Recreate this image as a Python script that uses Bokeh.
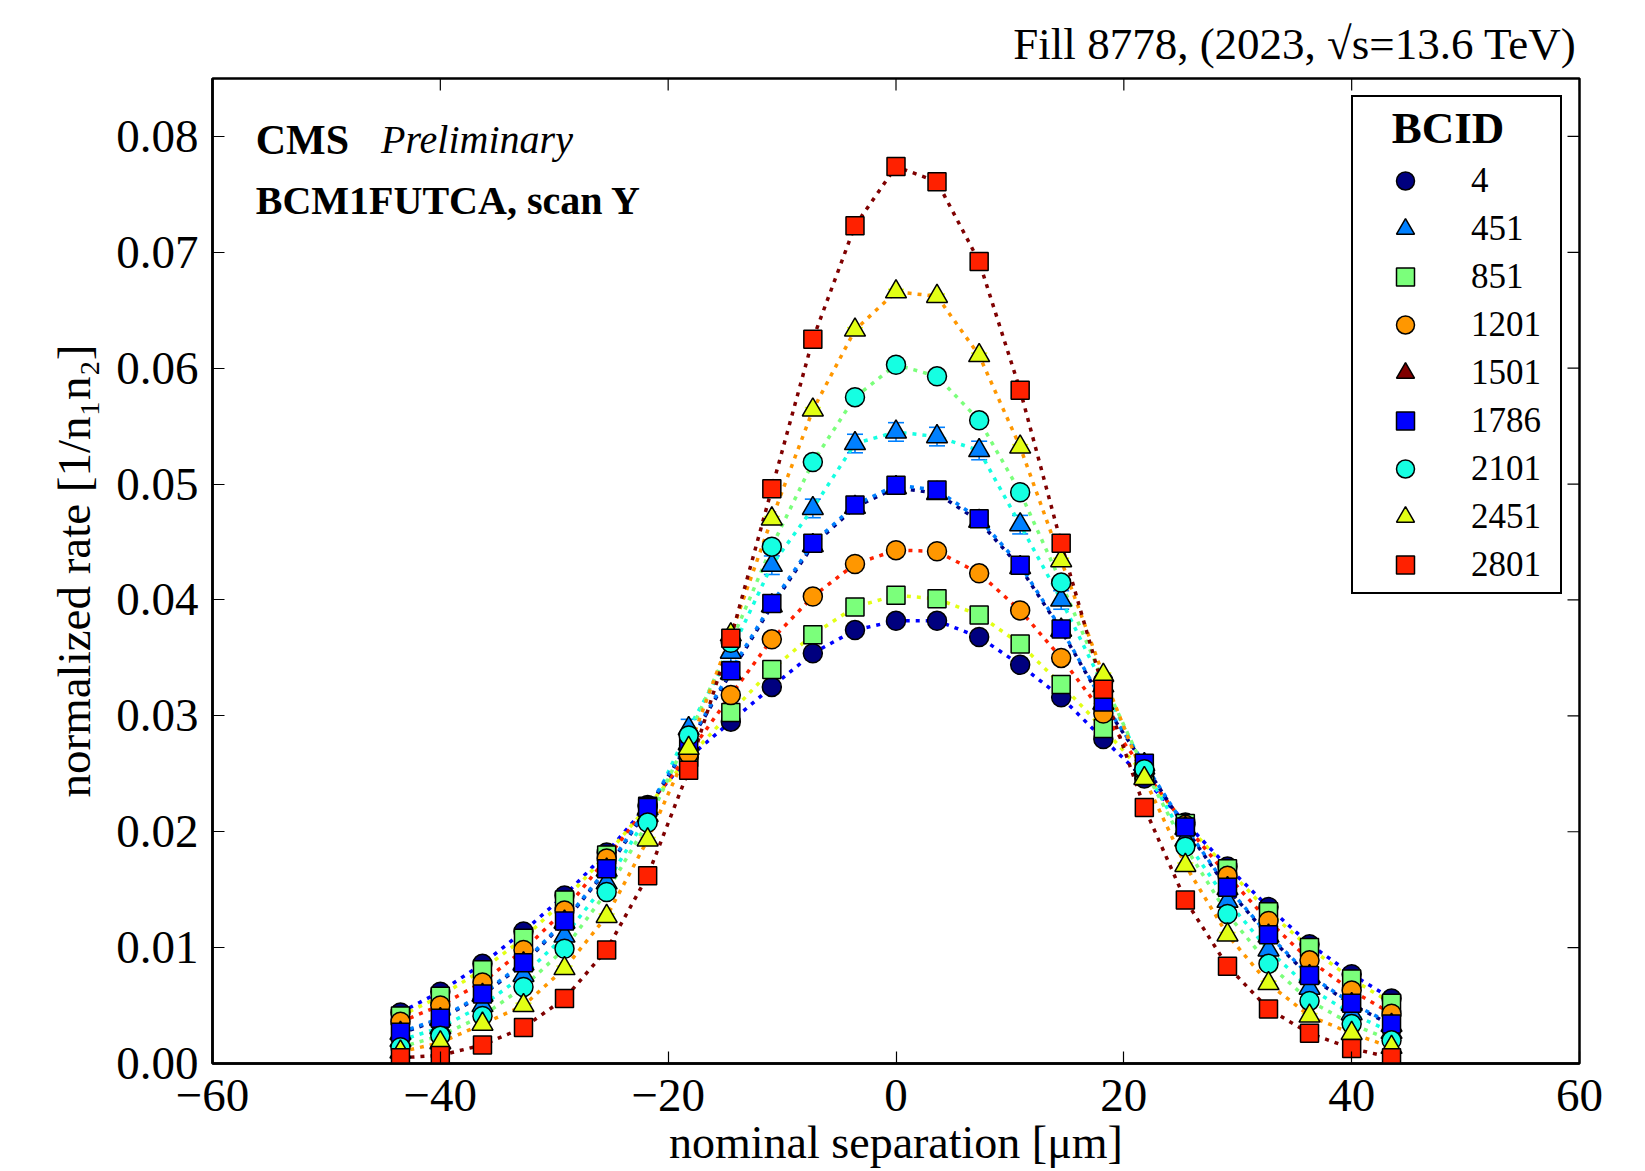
from bokeh.plotting import figure
from bokeh.models import (ColumnDataSource, Whisker, TeeHead, Legend, LegendItem, Label,
                          FixedTicker, Range1d, PrintfTickFormatter)
from bokeh.embed import file_html
from bokeh.resources import INLINE

# ---------------- data ----------------
sep = [-43.5, -40.0, -36.3, -32.7, -29.1, -25.4, -21.8, -18.2, -14.5, -10.9, -7.3, -3.6,
       0.0, 3.6, 7.3, 10.9, 14.5, 18.2, 21.8, 25.4, 29.1, 32.7, 36.3, 40.0, 43.5]

bcid = ["4", "451", "851", "1201", "1501", "1786", "2101", "2451", "2801"]

rate_4 = [0.0044, 0.0062, 0.0086, 0.0114, 0.0145, 0.0182, 0.0223, 0.0264, 0.0295, 0.0325, 0.0354, 0.0374,
          0.0382, 0.0382, 0.0368, 0.0344, 0.0316, 0.0280, 0.0246, 0.0208, 0.0170, 0.0135, 0.0103, 0.0077, 0.0056]
rate_451 = [0.0020, 0.0031, 0.0050, 0.0076, 0.0110, 0.0156, 0.0214, 0.0289, 0.0355, 0.0430, 0.0479, 0.0535,
            0.0545, 0.0541, 0.0529, 0.0465, 0.0400, 0.0326, 0.0255, 0.0193, 0.0140, 0.0098, 0.0065, 0.0043, 0.0027]
rate_851 = [0.0041, 0.0058, 0.0081, 0.0108, 0.0141, 0.0180, 0.0222, 0.0264, 0.0303, 0.0340, 0.0370, 0.0394,
            0.0404, 0.0401, 0.0387, 0.0362, 0.0327, 0.0289, 0.0250, 0.0207, 0.0168, 0.0131, 0.0100, 0.0073, 0.0052]
rate_1201 = [0.0036, 0.0050, 0.0070, 0.0098, 0.0132, 0.0177, 0.0222, 0.0267, 0.0318, 0.0366, 0.0403, 0.0431,
             0.0443, 0.0442, 0.0423, 0.0391, 0.0350, 0.0302, 0.0252, 0.0206, 0.0162, 0.0123, 0.0089, 0.0063, 0.0043]
rate_1501 = [0.0026, 0.0038, 0.0059, 0.0086, 0.0122, 0.0167, 0.0220, 0.0276, 0.0337, 0.0395, 0.0447, 0.0480,
             0.0497, 0.0492, 0.0468, 0.0428, 0.0374, 0.0311, 0.0258, 0.0203, 0.0151, 0.0110, 0.0075, 0.0051, 0.0033]
rate_1786 = [0.0027, 0.0039, 0.0060, 0.0087, 0.0123, 0.0168, 0.0221, 0.0277, 0.0339, 0.0397, 0.0449, 0.0482,
             0.0499, 0.0495, 0.0470, 0.0430, 0.0375, 0.0312, 0.0259, 0.0204, 0.0152, 0.0111, 0.0076, 0.0052, 0.0034]
rate_2101 = [0.0014, 0.0024, 0.0041, 0.0066, 0.0099, 0.0148, 0.0208, 0.0283, 0.0363, 0.0446, 0.0519, 0.0575,
             0.0603, 0.0593, 0.0555, 0.0493, 0.0415, 0.0330, 0.0254, 0.0187, 0.0129, 0.0086, 0.0054, 0.0034, 0.0020]
rate_2451 = [0.0010, 0.0018, 0.0034, 0.0050, 0.0082, 0.0127, 0.0193, 0.0272, 0.0370, 0.0470, 0.0564, 0.0633,
             0.0666, 0.0662, 0.0611, 0.0532, 0.0434, 0.0335, 0.0246, 0.0171, 0.0111, 0.0069, 0.0041, 0.0026, 0.0014]
rate_2801 = [0.0005, 0.0007, 0.0016, 0.0031, 0.0056, 0.0098, 0.0162, 0.0253, 0.0367, 0.0496, 0.0625, 0.0723,
             0.0774, 0.0761, 0.0692, 0.0581, 0.0449, 0.0323, 0.0221, 0.0141, 0.0084, 0.0047, 0.0026, 0.0013, 0.0005]

rates = [rate_4, rate_451, rate_851, rate_1201, rate_1501, rate_1786, rate_2101, rate_2451, rate_2801]
rate_err = [0.0002, 0.0008, 0.0002, 0.0002, 0.0003, 0.0003, 0.0002, 0.0002, 0.0002]

x_ticks = [-60, -40, -20, 0, 20, 40, 60]
x_tick_labels = ["\u221260", "\u221240", "\u221220", "0", "20", "40", "60"]
y_ticks = [0.0, 0.01, 0.02, 0.03, 0.04, 0.05, 0.06, 0.07, 0.08]

# ---------------- styles ----------------
marker_colors = ["#00007f", "#0080ff", "#7bff7b", "#ff9700", "#7f0000", "#0000ff", "#15ffe2", "#e2ff15", "#ff2100"]
fit_colors = ["#0000ff", "#15ffe2", "#e2ff15", "#ff2100", "#00007f", "#0080ff", "#7bff7b", "#ff9700", "#7f0000"]
marker_types = ["circle", "triangle", "square"] * 3
marker_sizes = {"circle": 19, "triangle": 21, "square": 18}
FONT = "Liberation Serif"
X0, X1, Y0, Y1 = -60, 60, 0.0, 0.085
FRAME_W, FRAME_H = 1367, 985
TICK_PX = 12

p = figure(width=1645, height=1171, x_range=Range1d(X0, X1), y_range=Range1d(Y0, Y1),
           output_backend="svg", toolbar_location=None,
           min_border_left=212, min_border_right=66, min_border_top=78, min_border_bottom=108)
p.background_fill_color = "white"
p.border_fill_color = "white"
p.outline_line_color = "black"
p.outline_line_width = 2.5
p.outline_line_alpha = 1.0
p.xgrid.visible = False
p.ygrid.visible = False

p.title.text = "Fill 8778, (2023, \u221as=13.6 TeV)"
p.title.align = "right"
p.title.text_font = FONT
p.title.text_font_size = "45px"
p.title.text_font_style = "normal"
p.title.text_color = "black"
p.title.standoff = 20
p.title.offset = 3


def style_axis(ax):
    ax.axis_line_color = "black"
    ax.axis_line_width = 2.5
    ax.major_tick_in = TICK_PX
    ax.major_tick_out = 0
    ax.major_tick_line_color = "black"
    ax.major_tick_line_width = 1.2
    ax.minor_tick_line_color = None
    ax.major_label_text_font = FONT
    ax.major_label_text_color = "black"
    ax.axis_label_text_font = FONT
    ax.axis_label_text_font_style = "normal"
    ax.axis_label_text_color = "black"


xa = p.xaxis[0]
ya = p.yaxis[0]
style_axis(xa)
style_axis(ya)
xa.ticker = FixedTicker(ticks=x_ticks)
xa.major_label_overrides = {t: s for t, s in zip(x_ticks, x_tick_labels)}
xa.major_label_text_font_size = "47px"
xa.major_label_standoff = 16
xa.axis_label = "nominal separation [\u03bcm]"
xa.axis_label_text_font_size = "46px"
xa.axis_label_standoff = 3

ya.ticker = FixedTicker(ticks=y_ticks)
ya.formatter = PrintfTickFormatter(format="%.2f")
ya.major_label_text_font_size = "47px"
ya.major_label_standoff = 14
ya.axis_label = "normalized rate [1/n\u2081n\u2082]"
ya.axis_label_text_font_size = "47px"
ya.axis_label_standoff = 13

# inward ticks on the top and right edges (from the same tick lists)
tick_dx = TICK_PX * (X1 - X0) / FRAME_W
tick_dy = TICK_PX * (Y1 - Y0) / FRAME_H
p.segment(x0=x_ticks, y0=[Y1] * len(x_ticks), x1=x_ticks, y1=[Y1 - tick_dy] * len(x_ticks),
          line_color="black", line_width=1.2)
p.segment(x0=[X1] * len(y_ticks), y0=y_ticks, x1=[X1 - tick_dx] * len(y_ticks), y1=y_ticks,
          line_color="black", line_width=1.2)

# fit curves (dotted) under the points
for i in range(len(bcid)):
    p.line(sep, rates[i], line_color=fit_colors[i], line_width=3.5, line_dash="4 6")

items = []
for i in range(len(bcid)):
    y = rates[i]
    src = ColumnDataSource(dict(x=sep, y=y,
                                lo=[v - rate_err[i] for v in y],
                                hi=[v + rate_err[i] for v in y]))
    w = Whisker(source=src, base="x", lower="lo", upper="hi", dimension="height",
                line_color=marker_colors[i], line_width=1.6,
                lower_head=TeeHead(size=16, line_color=marker_colors[i], line_width=1.6),
                upper_head=TeeHead(size=16, line_color=marker_colors[i], line_width=1.6))
    p.add_layout(w)
    m = marker_types[i]
    r = p.scatter(x="x", y="y", source=src, marker=m, size=marker_sizes[m],
                  fill_color=marker_colors[i], line_color="black", line_width=1.5)
    items.append(LegendItem(label=bcid[i], renderers=[r]))

legend = Legend(items=items, location="top_right", margin=17, padding=5,
                title="\u00a0\u00a0\u00a0BCID", title_text_font=FONT, title_text_font_size="45px",
                title_text_font_style="bold", title_text_color="black", title_standoff=4,
                label_text_font=FONT, label_text_font_size="35px", label_text_color="black",
                glyph_width=94, glyph_height=45, label_height=45, label_width=84,
                label_standoff=19, spacing=3,
                border_line_color="black", border_line_width=2.5, border_line_alpha=1.0,
                background_fill_color="white", background_fill_alpha=1.0)
p.add_layout(legend)

# text annotations inside the frame
p.add_layout(Label(x=-56.2, y=0.0797, text="CMS", text_font=FONT, text_font_size="42px",
                   text_font_style="bold", text_color="black", text_baseline="middle"))
p.add_layout(Label(x=-45.2, y=0.0797, text="Preliminary", text_font=FONT, text_font_size="40px",
                   text_font_style="italic", text_color="black", text_baseline="middle"))
p.add_layout(Label(x=-56.2, y=0.0745, text="BCM1FUTCA, scan Y", text_font=FONT, text_font_size="40px",
                   text_font_style="bold", text_color="black", text_baseline="middle"))

open("out.html", "w").write(file_html(p, INLINE))
